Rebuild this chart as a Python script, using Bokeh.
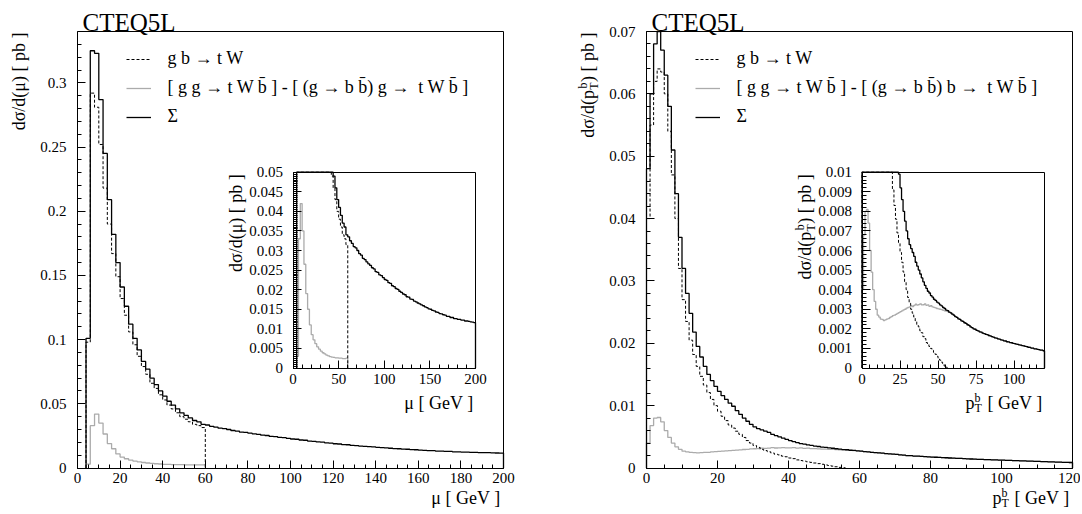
import numpy as np
from math import pi
from bokeh.plotting import figure
from bokeh.models import (Range1d, LinearAxis, SingleIntervalTicker, FixedTicker,
                          CustomJSTickFormatter, Label, Legend, LegendItem)
from bokeh.embed import file_html
from bokeh.resources import INLINE

# ------------------------------------------------------------------ data
PDF_LABEL = "CTEQ5L"
LEG_GBTW = "g b \u2192 t W"
LEG_MU_GG = "[ g g \u2192 t W b\u0304 ] - [ (g \u2192 b b\u0304) g \u2192  t W b\u0304 ]"
LEG_PT_GG = "[ g g \u2192 t W b\u0304 ] - [ (g \u2192 b b\u0304) b \u2192  t W b\u0304 ]"
LEG_SUM = "\u03a3"

# left panel: d sigma / d mu, 2 GeV bins
MU_BIN = 2.0
MU_FIRST = 4.0          # low edge of first filled bin
MU_SUM = [
    0.101, 0.325, 0.323, 0.287, 0.245, 0.209, 0.182, 0.160, 0.141, 0.126,
    0.112, 0.101, 0.092, 0.083, 0.077, 0.070, 0.065, 0.060, 0.056, 0.052,
    0.049, 0.046, 0.043, 0.041, 0.039, 0.037, 0.036, 0.034, 0.0335, 0.0325,
    0.0318, 0.0310, 0.0307, 0.0300, 0.0292, 0.0288, 0.0280, 0.0277, 0.0271, 0.0266,
    0.0262, 0.0256, 0.0253, 0.0246, 0.0244, 0.0238, 0.0236, 0.0231, 0.0226, 0.0224,
    0.0218, 0.0216, 0.0210, 0.0208, 0.0203, 0.0201, 0.0196, 0.0193, 0.0189, 0.0187,
    0.0182, 0.0181, 0.0176, 0.0175, 0.0171, 0.0169, 0.0166, 0.0164, 0.0161, 0.0159,
    0.0156, 0.0154, 0.0151, 0.0150, 0.0147, 0.0146, 0.0143, 0.0142, 0.0139, 0.0138,
    0.0136, 0.0135, 0.0132, 0.0132, 0.0129, 0.0129, 0.0126, 0.0126, 0.0124, 0.0124,
    0.0122, 0.0122, 0.0120, 0.0120, 0.0119, 0.0118, 0.0117, 0.0116,
]
MU_GBTW = [
    0.098, 0.292, 0.281, 0.252, 0.218, 0.190, 0.167, 0.149, 0.132, 0.119,
    0.106, 0.096, 0.087, 0.079, 0.073, 0.066, 0.062, 0.057, 0.053, 0.049,
    0.046, 0.043, 0.040, 0.038, 0.036, 0.034, 0.033, 0.0315,
]
MU_GGTWB = [
    0.003, 0.033, 0.042, 0.035, 0.0265, 0.019, 0.015, 0.011, 0.0085, 0.0072,
    0.0062, 0.0054, 0.0048, 0.0043, 0.0039, 0.0036, 0.0033, 0.0031, 0.0029, 0.0028,
    0.0027, 0.0026, 0.0026, 0.0025, 0.0025, 0.0024, 0.0024, 0.0025,
]

# right panel: d sigma / d pT(b), 1 GeV bins
PT_BIN = 1.0
PT_FIRST = 0.0
PT_SUM = [
    0.048, 0.060, 0.068, 0.072, 0.067, 0.063, 0.058, 0.051, 0.044, 0.037,
    0.032, 0.028, 0.0248, 0.0218, 0.0195, 0.0178, 0.0163, 0.0150, 0.0140, 0.0131,
    0.0123, 0.0116, 0.0110, 0.0104, 0.0099, 0.0092, 0.0086, 0.0080, 0.0075, 0.0070,
    0.0066, 0.0063, 0.0061, 0.0059, 0.0057, 0.0054, 0.0052, 0.0050, 0.0048, 0.0046,
    0.00440, 0.00422, 0.00407, 0.00392, 0.00383, 0.00370, 0.00362, 0.00351, 0.00345, 0.00336,
    0.00331, 0.00322, 0.00317, 0.00309, 0.00304, 0.00296, 0.00293, 0.00285, 0.00282, 0.00275,
    0.00270, 0.00262, 0.00259, 0.00251, 0.00248, 0.00241, 0.00238, 0.00231, 0.00228, 0.00221,
    0.00218, 0.00210, 0.00206, 0.00200, 0.00198, 0.00192, 0.00190, 0.00185, 0.00183, 0.00178,
    0.00176, 0.00172, 0.00170, 0.00166, 0.00164, 0.00160, 0.00158, 0.00154, 0.00153, 0.00149,
    0.00147, 0.00144, 0.00142, 0.00139, 0.00138, 0.00134, 0.00133, 0.00130, 0.00129, 0.00126,
    0.00125, 0.00122, 0.00121, 0.00118, 0.00117, 0.00114, 0.00113, 0.00110, 0.00109, 0.00106,
    0.00105, 0.00102, 0.00101, 0.00098, 0.00098, 0.00095, 0.00094, 0.00091, 0.00091, 0.00088,
]
PT_GBTW = [
    0.040, 0.055, 0.062, 0.064, 0.0635, 0.060, 0.054, 0.047, 0.040, 0.032,
    0.027, 0.0235, 0.0205, 0.0182, 0.0163, 0.0147, 0.0133, 0.0121, 0.0110, 0.0100,
    0.0091, 0.0083, 0.0076, 0.0069, 0.0064, 0.0059, 0.0054, 0.0049, 0.0044, 0.0040,
    0.0036, 0.0033, 0.0030, 0.0028, 0.0026, 0.0024, 0.0022, 0.0021, 0.0019, 0.0018,
    0.0016, 0.0015, 0.0013, 0.0012, 0.0011, 0.0010, 0.0009, 0.0008, 0.0007, 0.0006,
    0.0005, 0.0004, 0.0003, 0.0002, 0.0001, 0.00004,
]
PT_GGTWB = [
    0.0040, 0.0068, 0.0080, 0.0081, 0.0074, 0.0060, 0.0049, 0.0040, 0.0034, 0.0030,
    0.0027, 0.0026, 0.0025, 0.00248, 0.00242, 0.00246, 0.00250, 0.00252, 0.00258, 0.00262,
    0.00268, 0.00270, 0.00274, 0.00279, 0.00283, 0.00288, 0.00292, 0.00297, 0.00300, 0.00306,
    0.00309, 0.00312, 0.00318, 0.00314, 0.00320, 0.00326, 0.00321, 0.00324, 0.00328, 0.00322,
    0.00323, 0.00327, 0.00320, 0.00322, 0.00315, 0.00318, 0.00312, 0.00310, 0.00307, 0.00304,
    0.00302, 0.00300, 0.00298, 0.00295, 0.00292, 0.00290, 0.00288, 0.00284, 0.00280, 0.00275,
    0.00270, 0.00262, 0.00259, 0.00251, 0.00248, 0.00241, 0.00238, 0.00231, 0.00228, 0.00221,
    0.00218, 0.00210, 0.00206, 0.00200, 0.00198, 0.00192, 0.00190, 0.00185, 0.00183, 0.00178,
    0.00176, 0.00172, 0.00170, 0.00166, 0.00164, 0.00160, 0.00158, 0.00154, 0.00153, 0.00149,
    0.00147, 0.00144, 0.00142, 0.00139, 0.00138, 0.00134, 0.00133, 0.00130, 0.00129, 0.00126,
    0.00125, 0.00122, 0.00121, 0.00118, 0.00117, 0.00114, 0.00113, 0.00110, 0.00109, 0.00106,
    0.00105, 0.00102, 0.00101, 0.00098, 0.00098, 0.00095, 0.00094, 0.00091, 0.00091, 0.00088,
]

# ------------------------------------------------------------------ layout / style
FONT = "Liberation Serif"
TICK_FS = "15px"
TITLE_PX = 18
SMALL_PX = 12
BLACK = "#000000"
GRAY = "#ababab"
BASE_CORR = 0.33        # observed downward shift of the alphabetic baseline, in em

W, H = 1080, 512
FMT = "return parseFloat(tick.toFixed(6)).toString();"

p = figure(width=W, height=H, x_range=Range1d(0, W), y_range=Range1d(0, H), title=None,
           output_backend="svg", toolbar_location=None, x_axis_location=None,
           y_axis_location=None, min_border=0, outline_line_color=None,
           background_fill_color="white", border_fill_color="white")
p.grid.visible = False


def style_axis(ax, standoff):
    ax.major_tick_in = 8
    ax.major_tick_out = 0
    ax.minor_tick_in = 4
    ax.minor_tick_out = 0
    ax.axis_line_color = BLACK
    ax.major_tick_line_color = BLACK
    ax.minor_tick_line_color = BLACK
    ax.major_label_text_font = FONT
    ax.major_label_text_font_size = TICK_FS
    ax.major_label_text_color = BLACK
    ax.major_label_standoff = standoff


def add_ranges(name, box, xdom, ydom):
    """box = (left, right, top, bottom) in canvas pixels"""
    x0, x1, t, b = box
    kx = (x1 - x0) / (xdom[1] - xdom[0])
    ky = (b - t) / (ydom[1] - ydom[0])
    p.extra_x_ranges[name + "x"] = Range1d(xdom[0] - x0 / kx, xdom[1] + (W - x1) / kx)
    p.extra_y_ranges[name + "y"] = Range1d(ydom[0] - (H - b) / ky, ydom[1] + t / ky)
    return name + "x", name + "y"


def box_axes(rx, ry, xdom, ydom, xt, xm, yt, ym, xstand, ystand):
    eps_x = 1e-9 * (xdom[1] - xdom[0])
    eps_y = 1e-9 * (ydom[1] - ydom[0])
    axb = LinearAxis(x_range_name=rx, y_range_name=ry, fixed_location=ydom[0],
                     bounds=(xdom[0], xdom[1] + eps_x),
                     ticker=SingleIntervalTicker(interval=xt, num_minor_ticks=xm))
    style_axis(axb, xstand)
    p.add_layout(axb, "below")
    axl = LinearAxis(x_range_name=rx, y_range_name=ry, fixed_location=xdom[0],
                     bounds=(ydom[0], ydom[1] + eps_y),
                     ticker=SingleIntervalTicker(interval=yt, num_minor_ticks=ym),
                     formatter=CustomJSTickFormatter(code=FMT))
    style_axis(axl, ystand)
    p.add_layout(axl, "left")
    for side, loc, bnd in (("above", ydom[1], xdom), ("right", xdom[1], ydom)):
        ax = LinearAxis(x_range_name=rx, y_range_name=ry, fixed_location=loc, bounds=bnd,
                        ticker=FixedTicker(ticks=[], minor_ticks=[]),
                        major_tick_line_color=None, minor_tick_line_color=None,
                        axis_line_color=BLACK)
        p.add_layout(ax, side)


def step_xy(edges, vals, cap):
    v = np.minimum(np.asarray(vals, dtype=float), cap)
    x = np.concatenate([[edges[0]], edges])
    y = np.concatenate([[0.0], v, [0.0]])
    return x, y


def lab(text, x, y, dx, dy, rx, ry, size=TITLE_PX, align="left", angle=0.0):
    corr = BASE_CORR * size
    if angle == 0.0:
        dy = dy + corr
    else:
        dx = dx - corr
    p.add_layout(Label(x=x, y=y, x_offset=dx, y_offset=dy, text=text, text_font=FONT,
                       text_font_size="%dpx" % size, text_align=align,
                       text_baseline="alphabetic", text_color=BLACK, angle=angle,
                       x_range_name=rx, y_range_name=ry))


def x_title(var, x, y, dx, dy, rx, ry):
    if var == "mu":
        lab("\u03bc [ GeV ]", x, y, dx, dy, rx, ry, align="right")
    else:
        lab("[ GeV ]", x, y, dx, dy, rx, ry, align="right")
        lab("p", x, y, dx - 77, dy, rx, ry)
        lab("b", x, y, dx - 68, dy + 7, rx, ry, size=SMALL_PX)
        lab("T", x, y, dx - 68, dy - 3, rx, ry, size=SMALL_PX)


def y_title(var, x, y, dx, dy, rx, ry):
    a = pi / 2
    if var == "mu":
        lab("d\u03c3/d(\u03bc) [ pb ]", x, y, dx, dy, rx, ry, align="right", angle=a)
    else:
        lab(") [ pb ]", x, y, dx, dy, rx, ry, align="right", angle=a)
        lab("b", x, y, dx - 7, dy - 50, rx, ry, size=SMALL_PX, align="right", angle=a)
        lab("T", x, y, dx + 4, dy - 50, rx, ry, size=SMALL_PX, align="right", angle=a)
        lab("d\u03c3/d(p", x, y, dx, dy - 57.5, rx, ry, align="right", angle=a)


def panel(name, var, box, ibox, xdom, ydom, ixdom, iydom, ticks, first, binw,
          s_sum, s_gbtw, s_gg, gg_label):
    (xt, xm, yt, ym, ixt, ixm, iyt, iym) = ticks
    rx, ry = add_ranges(name + "m", box, xdom, ydom)
    irx, iry = add_ranges(name + "i", ibox, ixdom, iydom)
    box_axes(rx, ry, xdom, ydom, xt, xm, yt, ym, 5, 11)
    box_axes(irx, iry, ixdom, iydom, ixt, ixm, iyt, iym, 6, 10)

    e_sum = first + binw * np.arange(len(s_sum) + 1)
    e_gb = first + binw * np.arange(len(s_gbtw) + 1)
    e_gg = first + binw * np.arange(len(s_gg) + 1)
    series = [
        ("gg", e_gg, s_gg, GRAY, "solid", 1.3),
        ("gb", e_gb, s_gbtw, BLACK, "3 2", 1.0),
        ("sum", e_sum, s_sum, BLACK, "solid", 1.3),
    ]
    rend = {}
    for key, edges, vals, color, dash, w in series:
        x, y = step_xy(edges, vals, ydom[1])
        rend[key] = p.step(x, y, mode="after", line_color=color, line_dash=dash,
                           line_width=w, x_range_name=rx, y_range_name=ry)
        xi, yi = step_xy(edges, vals, iydom[1])
        p.step(xi, yi, mode="after", line_color=color, line_dash=dash, line_width=w,
               x_range_name=irx, y_range_name=iry)

    legend = Legend(items=[LegendItem(label=LEG_GBTW, renderers=[rend["gb"]]),
                           LegendItem(label=gg_label, renderers=[rend["gg"]]),
                           LegendItem(label=LEG_SUM, renderers=[rend["sum"]])],
                    location=(box[0] + 48.5, H - (box[2] + 96)), orientation="vertical",
                    padding=0, margin=0, spacing=8, glyph_width=25, glyph_height=20,
                    label_height=20, label_standoff=17, label_text_font=FONT,
                    label_text_font_size="%dpx" % TITLE_PX, label_text_color=BLACK,
                    border_line_color=None, background_fill_alpha=0.0)
    p.add_layout(legend)

    lab(PDF_LABEL, xdom[0], ydom[1], 5, 1, rx, ry, size=25)
    x_title(var, xdom[1], ydom[0], -3, -35.5, rx, ry)
    y_title(var, xdom[0], ydom[1], -53, -1, rx, ry)
    x_title(var, ixdom[1], iydom[0], -2, -41, irx, iry)
    y_title(var, ixdom[0], iydom[1], -51, -2, irx, iry)


panel("L", "mu", (77, 503, 31, 467.5), (292.5, 475, 171.7, 367.5),
      (0, 200), (0, 0.34), (0, 200), (0, 0.05),
      (20, 4, 0.05, 5, 50, 5, 0.005, 10),
      MU_FIRST, MU_BIN, MU_SUM, MU_GBTW, MU_GGTWB, LEG_MU_GG)
panel("R", "pt", (646, 1072, 31, 467.5), (861.5, 1044, 171.7, 367.5),
      (0, 120), (0, 0.07), (0, 120), (0, 0.01),
      (20, 4, 0.01, 5, 25, 5, 0.001, 5),
      PT_FIRST, PT_BIN, PT_SUM, PT_GBTW, PT_GGTWB, LEG_PT_GG)

open("out.html", "w").write(file_html(p, INLINE))
